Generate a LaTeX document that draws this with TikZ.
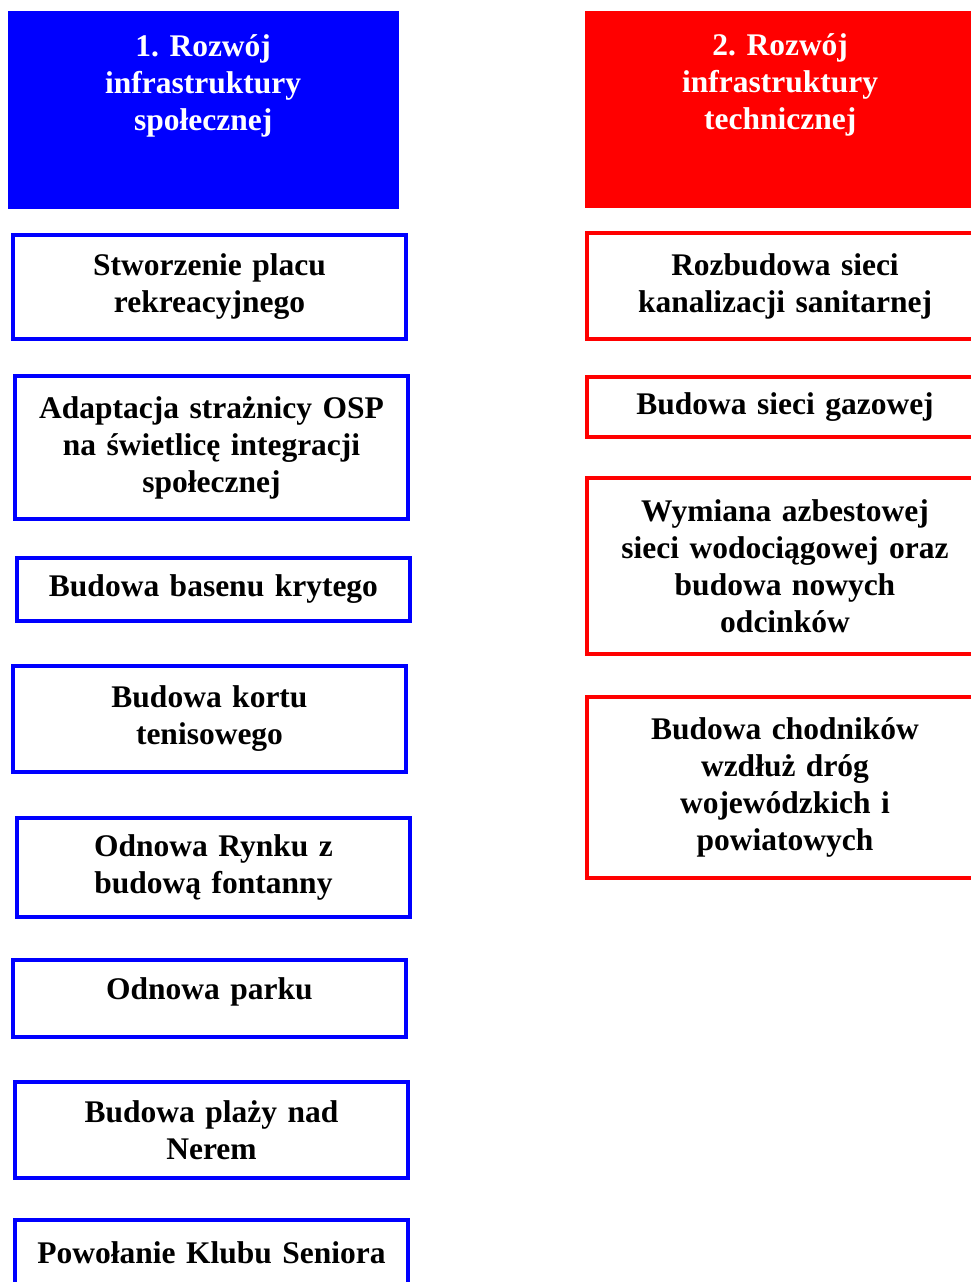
\documentclass[tikz,border=0pt]{standalone}
\usepackage{fontspec}
\setmainfont{Liberation Serif}
\begin{document}
\begin{tikzpicture}[x=1pt,y=-1pt,
  font=\bfseries\fontsize{31.5}{37}\selectfont,
  naglowek/.style={fill=#1,draw=#1,text=white,inner sep=0pt,anchor=north west},
  zadanie/.style={draw=#1,line width=4pt,inner sep=0pt,align=center,anchor=north west},
  lewy/.style={zadanie=blue,text width=393pt},
  prawy/.style={zadanie=red,text width=396pt}]
\useasboundingbox (0,0) rectangle (971,1282);
\clip (0,0) rectangle (971,1282);
% naglowki
\node[naglowek=blue] (spol) at (8,11) {\parbox[t][197pt][t]{390pt}{\centering\rule{0pt}{45pt}1. Rozwój\\infrastruktury\\społecznej}};
\node[naglowek=red] (tech) at (585,11) {\parbox[t][196pt][t]{390pt}{\centering\rule{0pt}{44pt}2. Rozwój\\infrastruktury\\technicznej}};
%
% infrastruktura spoleczna
\node[lewy,minimum height=104pt] (s1) at (11,233) {Stworzenie placu\\rekreacyjnego};
\node[lewy,minimum height=143pt] (s2) at (13,374) {Adaptacja strażnicy OSP\\na świetlicę integracji\\społecznej};
\node[lewy,minimum height=63pt] (s3) at (15,556) {Budowa basenu krytego};
\node[lewy,minimum height=106pt] (s4) at (11,664) {Budowa kortu\\tenisowego};
\node[lewy,minimum height=99pt] (s5) at (15,816) {Odnowa Rynku z\\budową fontanny};
\node[lewy,minimum height=77pt,text depth=19pt] (s6) at (11,958) {Odnowa parku};
\node[lewy,minimum height=96pt] (s7) at (13,1080) {Budowa plaży nad\\Nerem};
\node[lewy,minimum height=66pt] (s8) at (13,1218) {Powołanie Klubu Seniora};
%
% infrastruktura techniczna
\node[prawy,minimum height=106pt] (t1) at (585,231) {Rozbudowa sieci\\kanalizacji sanitarnej};
\node[prawy,minimum height=60pt] (t2) at (585,375) {Budowa sieci gazowej};
\node[prawy,minimum height=176pt] (t3) at (585,476) {Wymiana azbestowej\\sieci wodociągowej oraz\\budowa nowych\\odcinków};
\node[prawy,minimum height=181pt] (t4) at (585,695) {Budowa chodników\\wzdłuż dróg\\wojewódzkich i\\powiatowych};
\end{tikzpicture}
\end{document}
